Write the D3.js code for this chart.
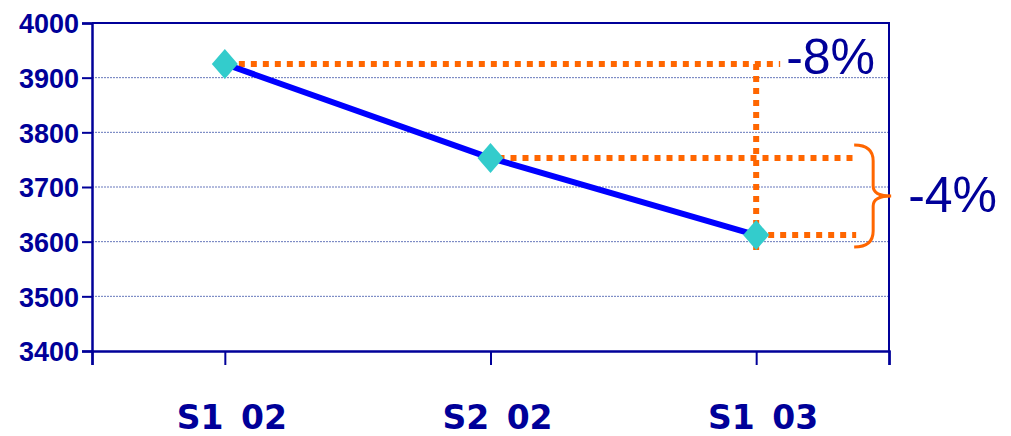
<!DOCTYPE html>
<html>
<head>
<meta charset="utf-8">
<script src="https://cdn.jsdelivr.net/npm/d3@7"></script>
<style>
  body { margin: 0; background: #fff; }
  svg { display: block; }
</style>
</head>
<body>
<svg id="chart" width="1011" height="436"></svg>
<script>
// chart data
var periods = ["S1 02", "S2 02", "S1 03"];
var values = [3925, 3753, 3612];
var yTicks = [3400, 3500, 3600, 3700, 3800, 3900, 4000];
var changes = ["-8%", "-4%"];

var navy = "#000099", orange = "#ff6600";

var svg = d3.select("#chart"),
    margin = { top: 23, left: 92, bottom: 85, right: 122 },
    width = +svg.attr("width"),
    height = +svg.attr("height");

var x = d3.scaleLinear().domain([-0.5, periods.length - 0.5]).range([margin.left, width - margin.right]);
var y = d3.scaleLinear().domain([3400, 4000]).range([height - margin.bottom, margin.top]);

// dotted gridlines
svg.append("g")
    .selectAll("line")
    .data(yTicks.filter(d => d > 3400 && d < 4000))
    .enter().append("line")
    .attr("x1", x(-0.5)).attr("x2", x(periods.length - 0.5))
    .attr("y1", d => y(d)).attr("y2", d => y(d))
    .attr("stroke", "#6677bb")
    .attr("stroke-width", 1)
    .attr("stroke-dasharray", "2,1");

// plot frame (top + right)
svg.append("path")
    .attr("d", `M${x(-0.5)},${y(4000)}H${x(periods.length - 0.5)}V${y(3400)}`)
    .attr("fill", "none")
    .attr("stroke", navy)
    .attr("stroke-width", 2);

// y axis
var yAxis = svg.append("g")
    .attr("transform", `translate(${x(-0.5)},0)`)
    .call(d3.axisLeft(y).tickValues(yTicks).tickSize(10).tickPadding(3).tickFormat(d3.format("d")));
yAxis.select(".domain").attr("stroke", navy).attr("stroke-width", 2.5);
yAxis.selectAll(".tick line").attr("stroke", navy).attr("stroke-width", 2);
yAxis.selectAll("text")
    .attr("fill", navy)
    .style("font-family", "'Liberation Sans', Arial, sans-serif")
    .style("font-weight", "bold")
    .style("font-size", "27px")
    .attr("dy", "0.36em");

// x axis
var xAxis = svg.append("g")
    .attr("transform", `translate(0,${y(3400)})`)
    .call(d3.axisBottom(x).tickValues([-0.5, 0, 1, 2, periods.length - 0.5]).tickSize(14).tickFormat(""));
xAxis.select(".domain").attr("stroke", navy).attr("stroke-width", 2.5);
xAxis.selectAll(".tick line").attr("stroke", navy).attr("stroke-width", 2);

svg.append("g")
    .selectAll("text")
    .data(periods)
    .enter().append("text")
    .attr("x", (d, i) => x(i) + 7)
    .attr("y", 429)
    .attr("text-anchor", "middle")
    .attr("fill", navy)
    .style("font-family", "'DejaVu Sans', sans-serif")
    .style("font-weight", "bold")
    .style("font-size", "33px")
    .style("word-spacing", "6px")
    .text(d => d);

// orange dotted guides
var last = values.length - 1;
var guides = [
    [x(0) + 14, y(values[0]), x(last) + 24, y(values[0])],
    [x(last), y(values[0]), x(last), y(values[last]) + 18],
    [x(1) + 8, y(values[1]), x(last) + 100, y(values[1])],
    [x(last), y(values[last]), x(last) + 100, y(values[last])]
];
svg.append("g")
    .selectAll("line")
    .data(guides)
    .enter().append("line")
    .attr("x1", d => d[0]).attr("y1", d => d[1])
    .attr("x2", d => d[2]).attr("y2", d => d[3])
    .attr("stroke", orange)
    .attr("stroke-width", 6)
    .attr("stroke-dasharray", "6,6");

// series line
var line = d3.line().x((d, i) => x(i)).y(d => y(d));
svg.append("path")
    .datum(values)
    .attr("d", line)
    .attr("fill", "none")
    .attr("stroke", "#0000ff")
    .attr("stroke-width", 6);

// diamond markers
svg.append("g")
    .selectAll("path")
    .data(values)
    .enter().append("path")
    .attr("d", (d, i) => {
        var cx = x(i), cy = y(d);
        return `M${cx},${cy - 15}L${cx + 13},${cy}L${cx},${cy + 15}L${cx - 13},${cy}Z`;
    })
    .attr("fill", "#33cccc");

// brace for -4%
var bx = x(last) + 98, y1 = y(values[1]) - 13, y2 = y(values[last]) + 12, ym = (y1 + y2) / 2;
svg.append("path")
    .attr("d", `M${bx},${y1} Q${bx + 19},${y1} ${bx + 19},${y1 + 16} L${bx + 19},${ym - 10} Q${bx + 19},${ym} ${bx + 37},${ym}` +
        ` Q${bx + 19},${ym} ${bx + 19},${ym + 10} L${bx + 19},${y2 - 16} Q${bx + 19},${y2} ${bx},${y2}`)
    .attr("fill", "none")
    .attr("stroke", orange)
    .attr("stroke-width", 3);

// change labels
svg.append("text")
    .attr("x", x(last) + 30).attr("y", y(values[0]) + 10)
    .attr("fill", navy)
    .style("font-family", "'Liberation Sans', Arial, sans-serif")
    .style("font-size", "50px")
    .text(changes[0]);

svg.append("text")
    .attr("x", bx + 54).attr("y", ym + 16)
    .attr("fill", navy)
    .style("font-family", "'Liberation Sans', Arial, sans-serif")
    .style("font-size", "50px")
    .text(changes[1]);
</script>
</body>
</html>
